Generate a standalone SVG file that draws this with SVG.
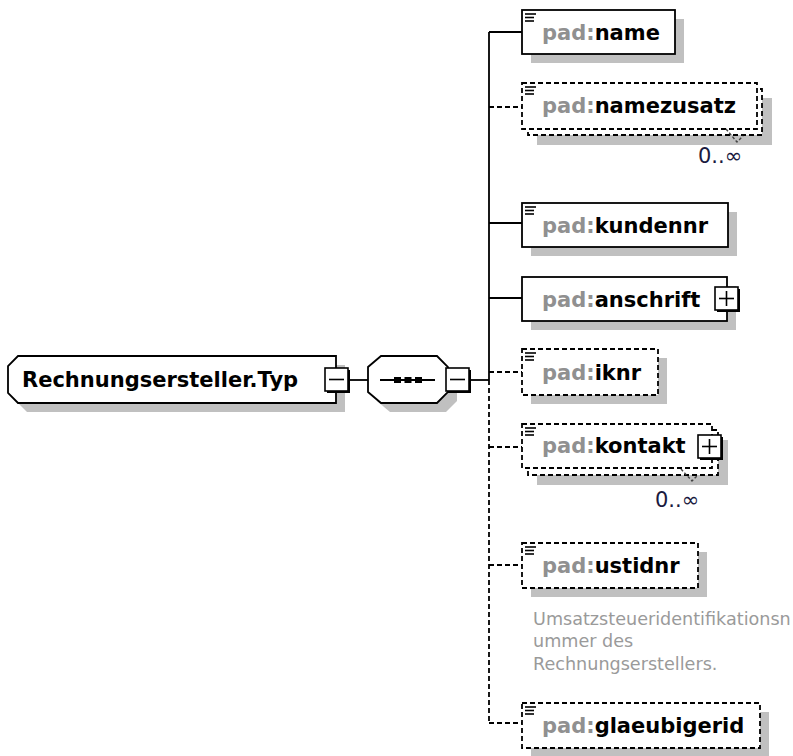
<svg xmlns="http://www.w3.org/2000/svg" width="793" height="756" viewBox="0 0 793 756">
<defs>
<style>
.shadow{fill:#c0c0c0;stroke:none}
.box{fill:#fff;stroke:#000;stroke-width:1.8}
.dbox{fill:#fff;stroke:#000;stroke-width:1.8;stroke-dasharray:5,3}
.conn{fill:none;stroke:#000;stroke-width:1.8}
.dconn{fill:none;stroke:#000;stroke-width:1.8;stroke-dasharray:5,3}
.lbl{font-family:"DejaVu Sans",sans-serif;font-size:21px;font-weight:bold;fill:#000}
.pfx{fill:#909090}
.occ{font-family:"DejaVu Sans",sans-serif;font-size:21px;fill:#1a1a40}
.ann{font-family:"DejaVu Sans",sans-serif;font-size:17.6px;fill:#9a9a9a}
.ico{stroke:#000;stroke-width:1.6}
.btnsh{fill:#000}
.btn{fill:#fff;stroke:#000;stroke-width:1.6}
.sign{stroke:#000;stroke-width:1.6}
.tick{fill:none;stroke:#444;stroke-width:1.4;stroke-dasharray:3,2}
</style>
<g id="simpleIcon">
<line class="ico" x1="3" y1="4" x2="14" y2="4"/>
<line class="ico" x1="3" y1="7.5" x2="12" y2="7.5"/>
<line class="ico" x1="3" y1="11" x2="12" y2="11"/>
</g>
</defs>
<rect width="793" height="756" fill="#fff"/>

<g id="connectors">
<line class="conn" x1="350" y1="380" x2="368" y2="380"/>
<line class="conn" x1="470" y1="380" x2="489" y2="380"/>
<line class="conn" x1="489" y1="32" x2="489" y2="380"/>
<line class="dconn" x1="489" y1="380" x2="489" y2="723"/>
<line class="conn" x1="489" y1="32" x2="522" y2="32"/>
<line class="dconn" x1="489" y1="107" x2="522" y2="107"/>
<line class="conn" x1="489" y1="223" x2="522" y2="223"/>
<line class="conn" x1="489" y1="298" x2="522" y2="298"/>
<line class="dconn" x1="489" y1="372" x2="522" y2="372"/>
<line class="dconn" x1="489" y1="447" x2="522" y2="447"/>
<line class="dconn" x1="489" y1="565" x2="522" y2="565"/>
<line class="dconn" x1="489" y1="723" x2="522" y2="723"/>
</g>

<g id="root">
<polygon class="shadow" points="27,365 345,365 345,412 27,412 17,402 17,375"/>
<polygon class="box" points="18,356 336,356 336,403 18,403 8,393 8,366"/>
<text class="lbl" x="22" y="387">Rechnungsersteller.Typ</text>
<rect class="btnsh" x="327" y="370" width="23" height="23"/>
<rect class="btn" x="325" y="368" width="23" height="23"/>
<line class="sign" x1="329" y1="379.5" x2="344" y2="379.5"/>
</g>

<g id="sequence">
<polygon class="shadow" points="390,365 446,365 457,376 457,401 446,412 390,412 377,401 377,376"/>
<polygon class="box" points="381,356 437,356 448,367 448,392 437,403 381,403 368,392 368,367"/>
<line class="conn" x1="380" y1="380" x2="435" y2="380"/>
<rect x="394" y="377" width="7" height="6" fill="#000"/>
<rect x="404.5" y="377" width="7" height="6" fill="#000"/>
<rect x="415" y="377" width="7" height="6" fill="#000"/>
<rect class="btnsh" x="448" y="370" width="23" height="23"/>
<rect class="btn" x="446" y="368" width="23" height="23"/>
<line class="sign" x1="450" y1="379.5" x2="465" y2="379.5"/>
</g>

<g id="name">
<rect class="shadow" x="531" y="19" width="153" height="44"/>
<rect class="box" x="522" y="10" width="153" height="44"/>
<use href="#simpleIcon" x="522" y="10"/>
<text class="lbl" x="542" y="40"><tspan class="pfx">pad:</tspan>name</text>
</g>

<g id="namezusatz">
<rect class="shadow" x="537" y="98" width="235" height="47"/>
<rect class="dbox" x="528" y="89" width="234" height="46"/>
<rect class="dbox" x="522" y="83" width="235" height="46"/>
<use href="#simpleIcon" x="522" y="83"/>
<text class="lbl" x="542" y="113"><tspan class="pfx">pad:</tspan>namezusatz</text>
<polyline class="tick" points="726,129 737,142 743,136"/>
<text class="occ" x="698" y="163">0..∞</text>
</g>

<g id="kundennr">
<rect class="shadow" x="531" y="212" width="206" height="44"/>
<rect class="box" x="522" y="203" width="206" height="44"/>
<use href="#simpleIcon" x="522" y="203"/>
<text class="lbl" x="542" y="233"><tspan class="pfx">pad:</tspan>kundennr</text>
</g>

<g id="anschrift">
<rect class="shadow" x="531" y="286" width="205" height="44"/>
<rect class="box" x="522" y="277" width="205" height="44"/>
<text class="lbl" x="542" y="307"><tspan class="pfx">pad:</tspan>anschrift</text>
<rect class="btnsh" x="717" y="289" width="23" height="23"/>
<rect class="btn" x="715" y="287" width="23" height="23"/>
<line class="sign" x1="719" y1="298.5" x2="734" y2="298.5"/>
<line class="sign" x1="726.5" y1="291" x2="726.5" y2="306"/>
</g>

<g id="iknr">
<rect class="shadow" x="531" y="358" width="136" height="46"/>
<rect class="dbox" x="522" y="349" width="136" height="46"/>
<use href="#simpleIcon" x="522" y="349"/>
<text class="lbl" x="542" y="380"><tspan class="pfx">pad:</tspan>iknr</text>
</g>

<g id="kontakt">
<rect class="shadow" x="537" y="440" width="191" height="45"/>
<rect class="dbox" x="528" y="430" width="190" height="45"/>
<rect class="dbox" x="522" y="424" width="190" height="44"/>
<use href="#simpleIcon" x="522" y="424"/>
<text class="lbl" x="542" y="453"><tspan class="pfx">pad:</tspan>kontakt</text>
<rect class="btnsh" x="700" y="437" width="23" height="23"/>
<rect class="btn" x="698" y="435" width="23" height="23"/>
<line class="sign" x1="702" y1="446.5" x2="717" y2="446.5"/>
<line class="sign" x1="709.5" y1="439" x2="709.5" y2="454"/>
<polyline class="tick" points="681,469 692,481 698,475"/>
<text class="occ" x="655" y="507">0..∞</text>
</g>

<g id="ustidnr">
<rect class="shadow" x="531" y="552" width="176" height="45"/>
<rect class="dbox" x="522" y="543" width="176" height="45"/>
<use href="#simpleIcon" x="522" y="543"/>
<text class="lbl" x="542" y="573"><tspan class="pfx">pad:</tspan>ustidnr</text>
<text class="ann" x="533" y="625">Umsatzsteueridentifikationsn</text>
<text class="ann" x="533" y="647">ummer des</text>
<text class="ann" x="533" y="670">Rechnungserstellers.</text>
</g>

<g id="glaeubigerid">
<rect class="shadow" x="531" y="712" width="238" height="45"/>
<rect class="dbox" x="522" y="703" width="238" height="45"/>
<use href="#simpleIcon" x="522" y="703"/>
<text class="lbl" x="542" y="733"><tspan class="pfx">pad:</tspan>glaeubigerid</text>
</g>
</svg>
